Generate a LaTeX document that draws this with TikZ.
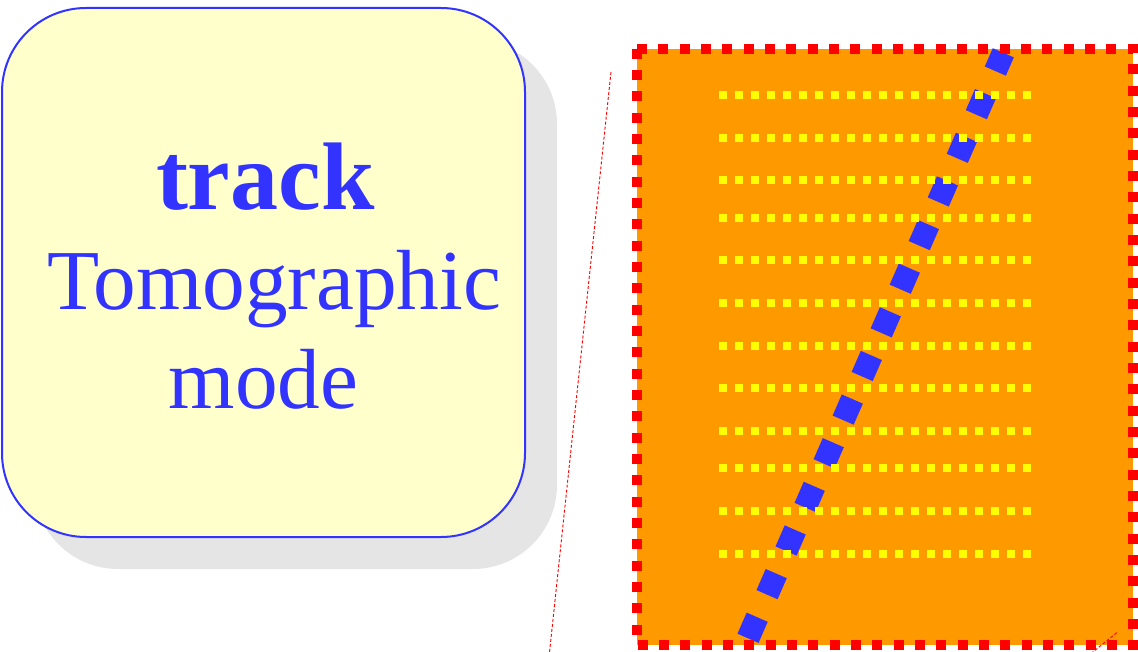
\documentclass[tikz,border=0pt]{standalone}
\usepackage{fontspec}
\setmainfont{Liberation Serif}
\definecolor{tblue}{HTML}{3333FF}
\definecolor{tcream}{HTML}{FFFFCC}
\definecolor{torange}{HTML}{FF9900}
\definecolor{tshadow}{HTML}{E5E5E5}
\definecolor{tred}{HTML}{FF0000}
\definecolor{tyellow}{HTML}{FFFF00}
\tikzset{
  modebox/.style={draw=tblue, fill=tcream, line width=1.5pt, rounded corners=63pt,
    minimum width=392.25pt, minimum height=396.75pt, inner sep=0pt},
  shadowbox/.style={fill=tshadow, rounded corners=63pt},
  boldtext/.style={text=tblue, inner sep=0pt, anchor=base, font=\fontsize{72}{72}\selectfont\bfseries},
  plaintext/.style={text=tblue, inner sep=0pt, anchor=base, font=\fontsize{64}{64}\selectfont},
  panel/.style={fill=torange, minimum width=372pt, minimum height=447pt, inner sep=0pt},
  panelborder/.style={draw=tred, line width=7.5pt, dash pattern=on 7.5pt off 8.5pt},
  trackline/.style={draw=tblue, line width=17.25pt, dash pattern=on 17.25pt off 18.45pt},
  stripline/.style={draw=tyellow, line width=6pt, dash pattern=on 6pt off 6pt},
  guideline/.style={draw=tred, line width=0.7pt, dash pattern=on 2.25pt off 1.5pt}
}
\begin{document}
\begin{tikzpicture}[x=0.75pt,y=-0.75pt]
\useasboundingbox (0,0) rectangle (1138,652);
\clip (0,0) rectangle (1138,652);
% left box
\fill[shadowbox] (34,40) rectangle (557,569);
\node[modebox] (box) at (263.5,272.5) {};
\node[boldtext] (t1) at (265.3,209.3) {track};
\node[plaintext] (t2) at (274.2,310) {Tomographic};
\node[plaintext] (t3) at (263.7,408.3) {mode};
% guide lines
\coordinate (g1a) at (611,72);
\coordinate (g1b) at (548.7,660);
\draw[guideline] (g1a) -- (g1b);
% right panel
\node[panel] (pan) at (885,347) {};
\coordinate (tb) at (748,638.3);
\coordinate (tt) at (1003.3,52.8);
\draw[trackline] (tb) -- (tt);
\foreach \yy in {95.5,138,180.5,218,260.5,303,345.5,388,430.5,468,511,553.5}
  \draw[stripline] (719.3,\yy) -- (1031.3,\yy);
\draw[panelborder] (pan.north west) rectangle (pan.south east);
\coordinate (g2a) at (1116.7,632.7);
\coordinate (g2b) at (1088,656);
\draw[guideline] (g2a) -- (g2b);
\end{tikzpicture}
\end{document}
